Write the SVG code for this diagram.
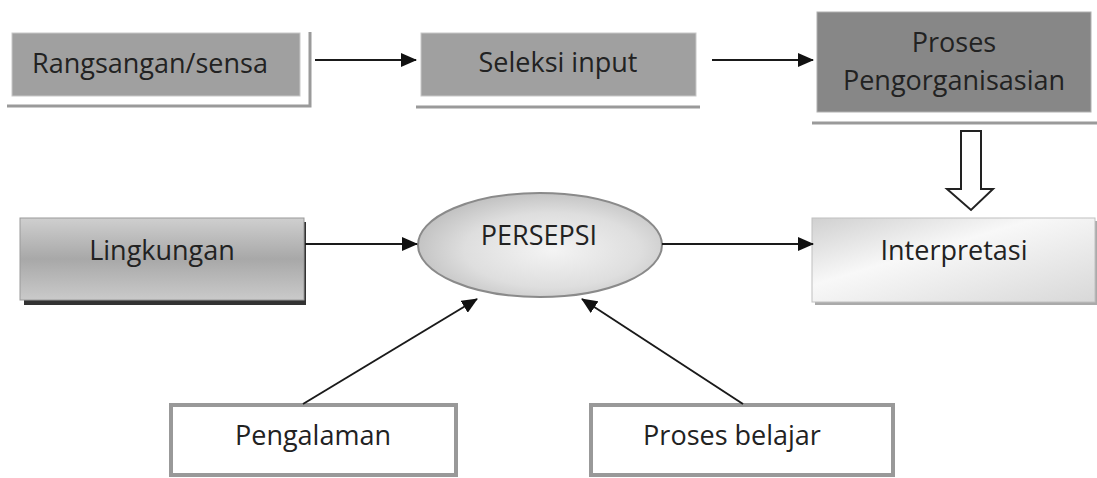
<svg xmlns="http://www.w3.org/2000/svg" width="1097" height="478" viewBox="0 0 1097 478">
<defs>
<style>
.t{font-family:"Open Sans","Noto Sans",sans-serif;font-size:27px;fill:#222;text-anchor:middle}
.c{stroke:#1a1a1a;stroke-width:2;fill:none}
.sh{stroke:#9a9a9a;stroke-width:3;fill:none}
</style>
<marker id="ah2" markerWidth="16" markerHeight="14" refX="15" refY="7" orient="auto" markerUnits="userSpaceOnUse" viewBox="0 0 16 14">
<path d="M0,0 L16,7 L0,14 z" fill="#111"/>
</marker>
<linearGradient id="gL" x1="0" y1="0" x2="0" y2="1">
<stop offset="0" stop-color="#cfcfcf"/>
<stop offset="0.5" stop-color="#a8a8a8"/>
<stop offset="1" stop-color="#cacaca"/>
</linearGradient>
<linearGradient id="gI" x1="0" y1="0" x2="1" y2="1">
<stop offset="0" stop-color="#d0d0d0"/>
<stop offset="0.4" stop-color="#f8f8f8"/>
<stop offset="1" stop-color="#d8d8d8"/>
</linearGradient>
<radialGradient id="gE" cx="0.55" cy="0.55" r="0.6">
<stop offset="0" stop-color="#f4f4f4"/>
<stop offset="0.6" stop-color="#dedede"/>
<stop offset="1" stop-color="#bdbdbd"/>
</radialGradient>
</defs>
<rect width="1097" height="478" fill="#fff"/>
<g id="rangsangan">
<rect x="12" y="33" width="288" height="63" fill="#a0a0a0" stroke="#c8c8c8" stroke-width="1"/>
<path class="sh" d="M7,106 H310 V32"/>
<text class="t" x="150" y="73">Rangsangan/sensa</text>
</g>
<g id="seleksi">
<rect x="421" y="33" width="275" height="63" fill="#a0a0a0" stroke="#c8c8c8" stroke-width="1"/>
<path class="sh" d="M416,107 H700"/>
<text class="t" x="558" y="72">Seleksi input</text>
</g>
<g id="proses-org">
<rect x="817" y="12" width="274" height="100" fill="#878787" stroke="#b0b0b0" stroke-width="1"/>
<path class="sh" d="M812,123 H1097"/>
<text class="t" x="954" y="52">Proses</text>
<text class="t" x="954" y="90">Pengorganisasian</text>
</g>
<g id="lingkungan">
<rect x="24" y="222" width="282" height="83" fill="#333"/>
<rect x="20" y="218" width="284" height="82" fill="url(#gL)" stroke="#999" stroke-width="1"/>
<text class="t" x="162" y="260">Lingkungan</text>
</g>
<g id="persepsi">
<ellipse cx="540" cy="245" rx="122" ry="52" fill="url(#gE)" stroke="#8a8a8a" stroke-width="2"/>
<text class="t" x="539" y="245">PERSEPSI</text>
</g>
<g id="interpretasi">
<rect x="815" y="221" width="282" height="84" fill="#aaa"/>
<rect x="812" y="218" width="283" height="84" fill="url(#gI)" stroke="#c0c0c0" stroke-width="1"/>
<text class="t" x="954" y="260">Interpretasi</text>
</g>
<g id="pengalaman">
<rect x="171" y="405" width="285" height="70" fill="#fff" stroke="#999" stroke-width="4"/>
<text class="t" x="313" y="445">Pengalaman</text>
</g>
<g id="proses-belajar">
<rect x="591" y="405" width="302" height="70" fill="#fff" stroke="#999" stroke-width="4"/>
<text class="t" x="732" y="445">Proses belajar</text>
</g>
<g id="connectors">
<line class="c" x1="315" y1="60" x2="416" y2="60" marker-end="url(#ah2)"/>
<line class="c" x1="712" y1="60" x2="813" y2="60" marker-end="url(#ah2)"/>
<line class="c" x1="305" y1="244" x2="417" y2="244" marker-end="url(#ah2)"/>
<line class="c" x1="662" y1="244" x2="813" y2="244" marker-end="url(#ah2)"/>
<line class="c" x1="303" y1="404" x2="477" y2="299" marker-end="url(#ah2)"/>
<line class="c" x1="743" y1="404" x2="582" y2="299" marker-end="url(#ah2)"/>
<path d="M961,131 H981 V189 H993 L971,210 L947,189 H961 Z" fill="#fff" stroke="#222" stroke-width="2" stroke-linejoin="miter"/>
</g>
</svg>
